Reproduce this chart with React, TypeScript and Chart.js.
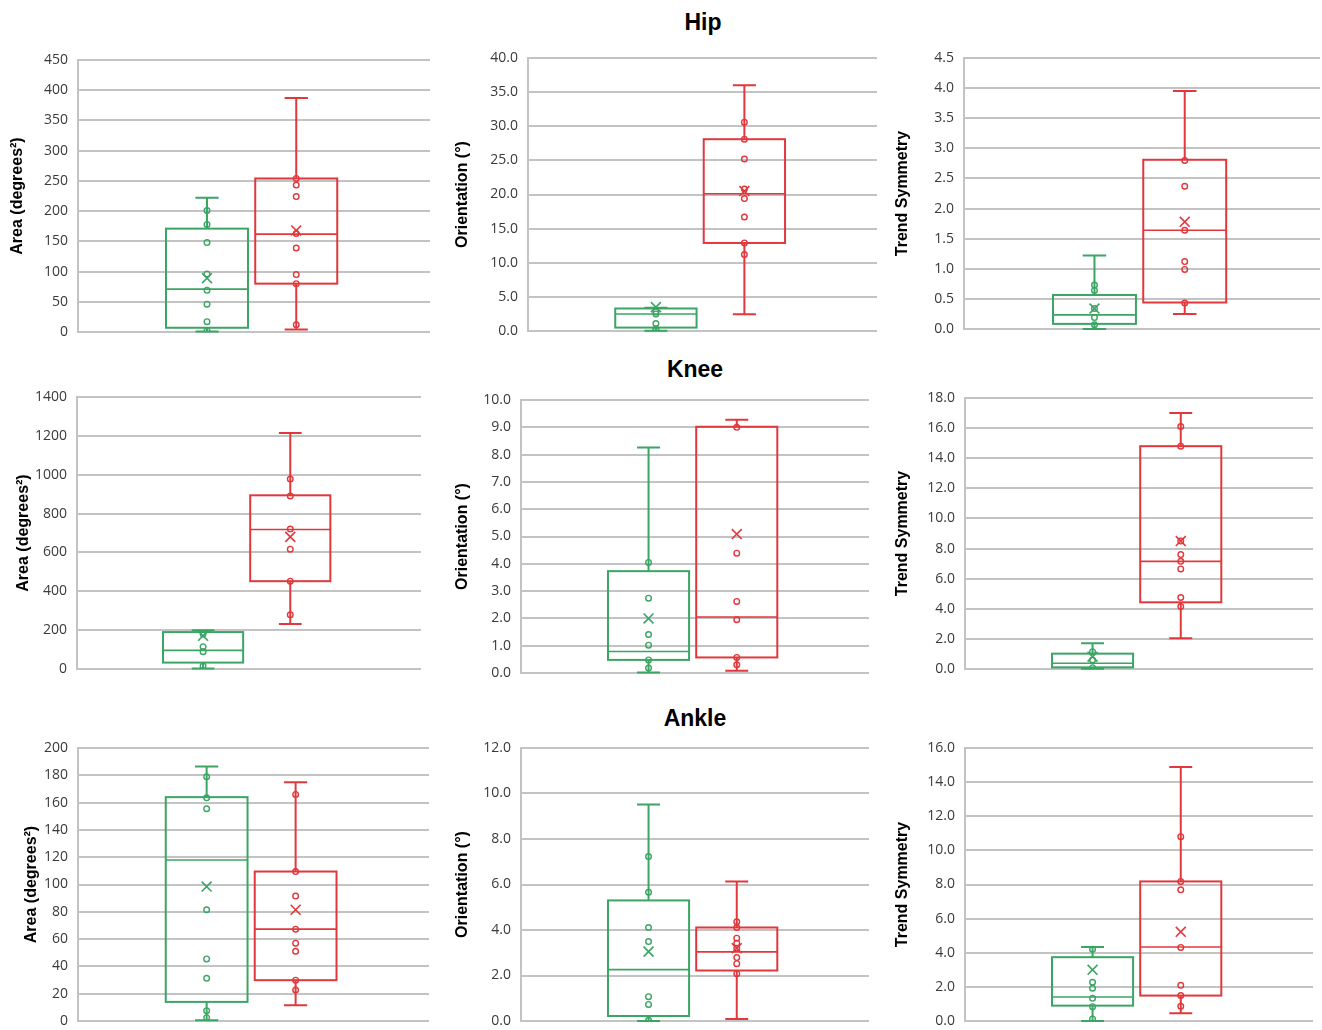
import React, { useEffect, useRef } from "react";
import { Chart, registerables } from "chart.js";

Chart.register(...registerables);

const GREEN = "#3aa564";
const RED = "#e0383d";
const GRID = "#c3c3c3";

// Box statistics per group: [min, q1, median, q3, max]  (group 0 = green, group 1 = red)
const hipAreaBox = [[1, 7, 71, 171, 222], [4, 80, 162, 254, 387]];
const hipAreaMean = [89, 168];
const hipAreaPoints = [[201, 178, 148, 96, 69, 46, 17, 2], [254, 243, 224, 163, 139, 95, 80, 12]];

const hipOrientBox = [[0.05, 0.5, 2.5, 3.3, 3.4], [2.45, 12.9, 20.1, 28.1, 36.0]];
const hipOrientMean = [3.5, 20.5];
const hipOrientPoints = [[2.8, 2.5, 1.1, 0.3, 0.1], [30.6, 28.1, 25.2, 20.8, 19.4, 16.7, 12.9, 11.2]];

const hipTrendBox = [[0.0, 0.085, 0.235, 0.565, 1.22], [0.25, 0.44, 1.64, 2.81, 3.95]];
const hipTrendMean = [0.34, 1.78];
const hipTrendPoints = [[0.73, 0.64, 0.34, 0.19, 0.07], [2.8, 2.37, 1.64, 1.12, 0.99, 0.43]];

const kneeAreaBox = [[2, 33, 96, 190, 200], [231, 452, 718, 894, 1215]];
const kneeAreaMean = [171, 680];
const kneeAreaPoints = [[180, 115, 89, 15], [978, 891, 720, 617, 452, 279]];

const kneeOrientBox = [[0.02, 0.48, 0.79, 3.73, 8.26], [0.085, 0.57, 2.05, 9.02, 9.28]];
const kneeOrientMean = [2.0, 5.09];
const kneeOrientPoints = [[4.05, 2.74, 1.41, 1.02, 0.48, 0.18], [9.0, 4.39, 2.62, 1.95, 0.57, 0.3]];

const kneeTrendBox = [[0.02, 0.11, 0.38, 1.02, 1.71], [2.04, 4.43, 7.15, 14.8, 17.0]];
const kneeTrendMean = [0.82, 8.5];
const kneeTrendPoints = [[1.15, 0.6, 0.09], [16.1, 14.8, 8.5, 7.6, 7.15, 6.65, 4.75, 4.15]];

const ankleAreaBox = [[0.5, 14, 118, 164, 186.5], [11.5, 29.9, 67.3, 109.5, 175]];
const ankleAreaMean = [98.5, 81.5];
const ankleAreaPoints = [[179, 163.5, 155.5, 81.5, 45.5, 31.3, 7.6, 2.4], [166, 109.5, 91.5, 67.3, 57, 51.1, 29.9, 22.7]];

const ankleOrientBox = [[0.0, 0.22, 2.26, 5.3, 9.52], [0.09, 2.22, 3.04, 4.11, 6.13]];
const ankleOrientMean = [3.05, 3.2];
const ankleOrientPoints = [[7.23, 5.66, 4.11, 3.49, 1.07, 0.73, 0.03], [4.36, 4.11, 3.64, 3.42, 3.2, 2.79, 2.52, 2.08]];

const ankleTrendBox = [[0.0, 0.9, 1.41, 3.74, 4.34], [0.45, 1.49, 4.34, 8.18, 14.89]];
const ankleTrendMean = [3.0, 5.23];
const ankleTrendPoints = [[4.2, 2.27, 1.92, 1.33, 0.84, 0.12], [10.8, 8.18, 7.69, 4.31, 2.09, 1.49, 0.86]];

// Axis settings per panel (row-major: Hip, Knee, Ankle × Area, Orientation, Trend Symmetry)
const yTitles = [
  "Area (degrees²)", "Orientation (°)", "Trend Symmetry",
  "Area (degrees²)", "Orientation (°)", "Trend Symmetry",
  "Area (degrees²)", "Orientation (°)", "Trend Symmetry",
];
const yMax = [450, 40, 4.5, 1400, 10, 18, 200, 12, 16];
const yStep = [50, 5, 0.5, 200, 1, 2, 20, 2, 2];
const yDecimals = [0, 1, 1, 0, 1, 1, 0, 1, 1];

const sectionTitles = ["Hip", "Knee", "Ankle"];

const boxes = [hipAreaBox, hipOrientBox, hipTrendBox, kneeAreaBox, kneeOrientBox, kneeTrendBox, ankleAreaBox, ankleOrientBox, ankleTrendBox];
const means = [hipAreaMean, hipOrientMean, hipTrendMean, kneeAreaMean, kneeOrientMean, kneeTrendMean, ankleAreaMean, ankleOrientMean, ankleTrendMean];
const points = [hipAreaPoints, hipOrientPoints, hipTrendPoints, kneeAreaPoints, kneeOrientPoints, kneeTrendPoints, ankleAreaPoints, ankleOrientPoints, ankleTrendPoints];

// Layout (pixels): [axisX, rightX, topY, zeroY, yTitleCenterX]
const PANEL_LAYOUT = [
  [78, 430, 60, 332, 18],
  [528, 877, 58, 331, 463],
  [964, 1320, 58, 329, 903],
  [77, 421, 397, 669, 24],
  [521, 869, 400, 673, 463],
  [965, 1313, 398, 669, 903],
  [78, 429, 748, 1021, 32],
  [521, 869, 748, 1021, 463],
  [965, 1313, 748, 1021, 903],
];
// Section title layout: [centerX, top]
const SECTION_LAYOUT = [
  [703, 9],
  [695, 356],
  [695, 705],
];

const COLORS = [GREEN, RED];
const CENTERS = [0.3665, 0.62];
const HALF_W = 0.1165;
const CAP_HALF = 0.033;
const PAD_T = 10;
const PAD_B = 10;
const PAD_R = 2;

function Panel({ idx }: { idx: number }) {
  const ref = useRef<HTMLCanvasElement | null>(null);
  const [axisX, rightX, topY, zeroY, titleX] = PANEL_LAYOUT[idx];
  const left = Math.round(titleX - 10);
  const axisW = axisX - left;
  const width = axisW + (rightX - axisX) + PAD_R;
  const height = PAD_T + (zeroY - topY) + PAD_B;

  useEffect(() => {
    if (!ref.current) return;
    const box = boxes[idx];
    const mean = means[idx];
    const pts = points[idx];

    const boxPlugin = {
      id: "boxWhisker" + idx,
      beforeDatasetsDraw(chart: any) {
        const { ctx, scales } = chart;
        const xs = scales.x;
        const ys = scales.y;
        box.forEach((b: number[], i: number) => {
          const color = COLORS[i];
          const cx = xs.getPixelForValue(CENTERS[i]);
          const l = xs.getPixelForValue(CENTERS[i] - HALF_W);
          const r = xs.getPixelForValue(CENTERS[i] + HALF_W);
          const cl = xs.getPixelForValue(CENTERS[i] - CAP_HALF);
          const cr = xs.getPixelForValue(CENTERS[i] + CAP_HALF);
          const [mn, q1, md, q3, mx] = b.map((v) => ys.getPixelForValue(v));
          ctx.save();
          ctx.strokeStyle = color;
          ctx.lineWidth = 2;
          ctx.beginPath();
          ctx.moveTo(cx, q3);
          ctx.lineTo(cx, mx);
          ctx.moveTo(cx, q1);
          ctx.lineTo(cx, mn);
          ctx.moveTo(cl, mx);
          ctx.lineTo(cr, mx);
          ctx.moveTo(cl, mn);
          ctx.lineTo(cr, mn);
          ctx.stroke();
          ctx.strokeRect(l, q3, r - l, q1 - q3);
          ctx.lineWidth = 1.6;
          ctx.beginPath();
          ctx.moveTo(l, md);
          ctx.lineTo(r, md);
          ctx.stroke();
          ctx.restore();
        });
      },
    };

    const datasets: any[] = [];
    [0, 1].forEach((g) => {
      datasets.push({
        label: "points" + g,
        data: pts[g].map((v: number) => ({ x: CENTERS[g], y: v })),
        pointStyle: "circle",
        pointRadius: 2.8,
        pointBorderWidth: 1.4,
        borderColor: COLORS[g],
        backgroundColor: "rgba(0,0,0,0)",
        showLine: false,
      });
      datasets.push({
        label: "mean" + g,
        data: [{ x: CENTERS[g], y: mean[g] }],
        pointStyle: "crossRot",
        pointRadius: 7,
        pointBorderWidth: 1.6,
        borderColor: COLORS[g],
        backgroundColor: COLORS[g],
        showLine: false,
      });
    });

    const dec = yDecimals[idx];
    const chart = new Chart(ref.current, {
      type: "scatter",
      data: { datasets },
      plugins: [boxPlugin],
      options: {
        responsive: false,
        animation: false,
        events: [],
        layout: { autoPadding: false, padding: { top: PAD_T, bottom: PAD_B, left: 0, right: PAD_R } },
        plugins: { legend: { display: false }, tooltip: { enabled: false } },
        scales: {
          x: { type: "linear", min: 0, max: 1, display: false },
          y: {
            type: "linear",
            min: 0,
            max: yMax[idx],
            afterFit: (scale: any) => {
              scale.width = axisW;
              scale.paddingTop = 0;
              scale.paddingBottom = 0;
            },
            ticks: {
              stepSize: yStep[idx],
              padding: 10,
              color: "#3a3a3a",
              font: { family: "'Open Sans', 'DejaVu Sans', sans-serif", size: 14 },
              callback: (v: any) => Number(v).toFixed(dec),
            },
            grid: { color: GRID, lineWidth: 2, drawTicks: false },
            border: { display: true, color: GRID, width: 2 },
            title: {
              display: true,
              text: yTitles[idx],
              color: "#000",
              padding: { top: 0, bottom: 0 },
              font: { family: "'Liberation Sans', Arial, sans-serif", size: 16, weight: "bold" },
            },
          },
        },
      } as any,
    });
    return () => chart.destroy();
  }, [idx]);

  return (
    <canvas
      ref={ref}
      width={width}
      height={height}
      style={{
        position: "absolute",
        left,
        top: topY - PAD_T,
        width,
        height,
      }}
    />
  );
}

export default function App() {
  return (
    <div
      style={{
        position: "absolute",
        left: 0,
        top: 0,
        width: 1322,
        height: 1030,
        background: "#fff",
        overflow: "hidden",
      }}
    >
      {sectionTitles.map((t, i) => (
        <div
          key={t}
          style={{
            position: "absolute",
            left: SECTION_LAYOUT[i][0] - 100,
            top: SECTION_LAYOUT[i][1],
            width: 200,
            textAlign: "center",
            fontFamily: "'Liberation Sans', Arial, sans-serif",
            fontWeight: "bold",
            fontSize: 23,
            lineHeight: "26px",
            color: "#000",
          }}
        >
          {t}
        </div>
      ))}
      {PANEL_LAYOUT.map((_, i) => (
        <Panel key={i} idx={i} />
      ))}
    </div>
  );
}
